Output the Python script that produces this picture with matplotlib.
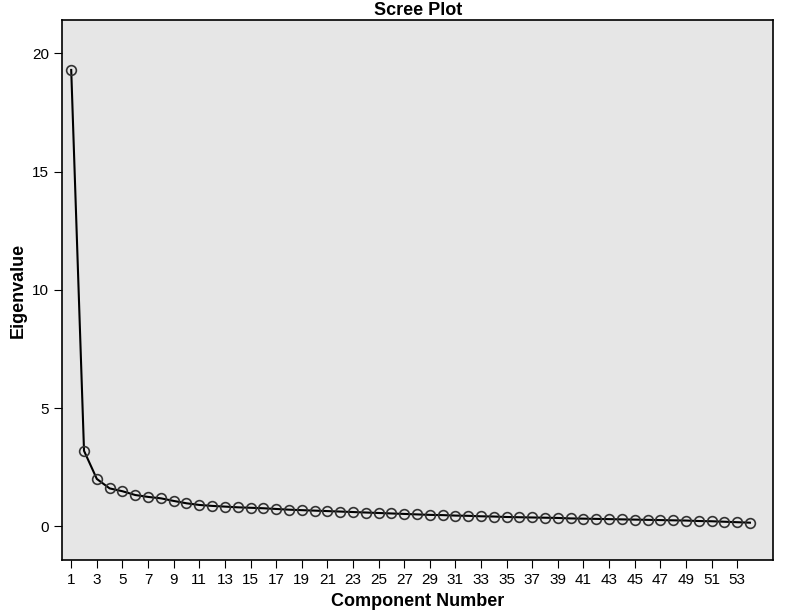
import numpy as np
import matplotlib.pyplot as plt

plt.rcParams['font.family'] = 'Liberation Sans'

# Eigenvalues
components = list(range(1, 55))
eigenvalues = [19.3, 3.19, 2.0, 1.6, 1.48, 1.32, 1.24, 1.18, 1.07, 0.97,
               0.9, 0.86, 0.83, 0.8, 0.78, 0.76, 0.73, 0.7, 0.68, 0.66,
               0.64, 0.62, 0.6, 0.58, 0.56, 0.54, 0.52, 0.5, 0.48, 0.47,
               0.45, 0.44, 0.42, 0.41, 0.39, 0.38, 0.37, 0.36, 0.35, 0.33,
               0.32, 0.31, 0.3, 0.29, 0.28, 0.27, 0.26, 0.25, 0.24, 0.22,
               0.21, 0.19, 0.17, 0.15]
xticks = list(range(1, 54, 2))
yticks = [0, 5, 10, 15, 20]

fig = plt.figure(figsize=(7.88, 6.15), dpi=100)
ax = fig.add_axes([0.079, 0.089, 0.902, 0.878])
ax.set_facecolor('#e6e6e6')

ax.plot(components, eigenvalues, '-', color='black', linewidth=1.5)
ax.plot(components, eigenvalues, 'o', markersize=7, markerfacecolor='none',
        markeredgecolor='#333333', markeredgewidth=1.2)

ax.set_xlim(0.3, 55.8)
ax.set_ylim(-1.44, 21.4)
ax.set_xticks(xticks)
ax.set_yticks(yticks)
ax.tick_params(labelsize=11, length=6, color='black')
for s in ax.spines.values():
    s.set_linewidth(1.2)

ax.set_title('Scree Plot', fontsize=13, fontweight='bold', pad=4)
ax.set_xlabel('Component Number', fontsize=13, fontweight='bold')
ax.set_ylabel('Eigenvalue', fontsize=13, fontweight='bold')

plt.savefig('out.png', dpi=100)
